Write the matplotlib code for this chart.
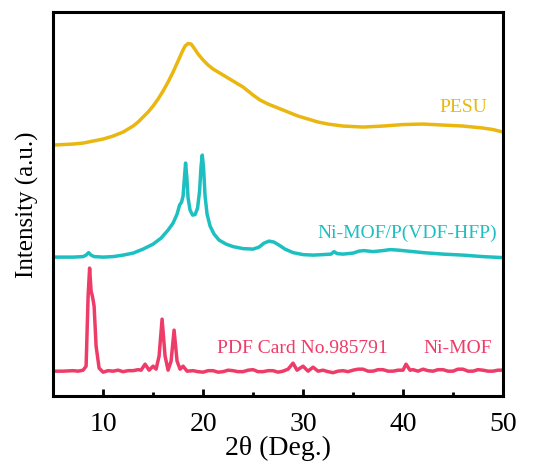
import matplotlib
matplotlib.use("Agg")
import matplotlib.pyplot as plt
from matplotlib.ticker import MultipleLocator

plt.rcParams['font.family'] = ['Liberation Serif', 'DejaVu Serif']

# PESU (2theta, intensity)
pesu_x = [5, 6, 7, 8, 9, 10, 11, 12, 13, 13.5, 14, 14.5, 15, 15.5, 16, 16.5, 17, 17.5,
          17.9, 18.2, 18.5, 18.8, 19.1, 19.5, 20, 20.5, 21, 22, 23, 24, 25, 25.7, 26.5,
          27.5, 28.5, 29.5, 30.5, 31.5, 32.5, 34, 36, 38, 40, 42, 44, 46, 48, 49, 50]
pesu_y = [251, 251.5, 252, 253, 255, 257, 260, 264, 270, 274, 279, 284, 290, 297, 305,
          314, 324, 335, 344, 350, 352.5, 352, 348, 342, 336, 331, 327, 321, 315, 309, 301,
          296, 292, 288, 284, 280, 277, 274, 272, 270, 269, 270, 271.5, 272, 271, 270, 268,
          266.5, 264]

# Ni-MOF/P(VDF-HFP)
comp_x = [5, 6, 7, 8, 8.3, 8.55, 8.8, 9.1, 10, 11, 12, 13, 14, 15, 15.8, 16.5, 17, 17.4,
          17.65, 17.85, 18.0, 18.15, 18.25, 18.38, 18.5, 18.7, 18.95, 19.2, 19.45, 19.65,
          19.8, 19.92, 20.05, 20.2, 20.4, 20.7, 21.1, 21.6, 22.3, 23, 24, 25, 25.6, 26.1,
          26.6, 27.1, 27.6, 28.2, 29, 30, 31, 32, 32.8, 33.1, 33.4, 34, 35, 35.6, 36.1, 37,
          38, 38.7, 39.5, 40.5, 42, 44, 46, 48, 50]
comp_y = [139, 139, 139, 139.5, 141, 143.5, 141, 139.5, 139, 139.5, 141, 143, 147, 152,
          158, 166, 173, 182, 191, 194, 200, 220, 233, 218, 198, 186, 181, 181.5, 188, 205,
          230, 241, 228, 200, 182, 170, 162, 156, 152, 149.5, 147.5, 147, 149, 153,
          155, 154, 151, 147, 143.5, 141.5, 141, 141.5, 142, 144.5, 142.5, 142, 143, 145,
          145.5, 144.5, 145.5, 146.5, 146, 145, 143.5, 142, 141, 139.5, 138.5]

# Ni-MOF
mof_x = [5, 6, 7, 7.5, 8.0, 8.3, 8.5, 8.65, 8.8, 8.95, 9.1, 9.3, 9.6, 10, 10.5, 11, 11.5,
         12, 12.5, 13, 13.5, 13.8, 14.2, 14.6, 15.0, 15.3, 15.6, 15.9, 16.2, 16.5, 16.8,
         17.1, 17.4, 17.7, 18.0, 18.4, 19, 19.5, 20, 20.5, 21, 21.5, 22, 22.5, 23, 23.5, 24,
         24.5, 25, 25.5, 26, 26.5, 27, 27.5, 28, 28.5, 29, 29.4, 30, 30.5, 31, 31.5, 32,
         32.5, 33, 33.5, 34, 34.5, 35, 35.5, 36, 36.5, 37, 37.5, 38, 38.5, 39, 39.5, 40,
         40.3, 40.7, 41, 41.5, 42, 42.5, 43, 43.5, 44, 44.5, 45, 45.5, 46, 46.5, 47, 47.5,
         48, 48.5, 49, 49.5, 50]
mof_y = [25, 25, 25.5, 25, 26, 30, 100, 128, 105, 99, 90, 50, 28, 24, 25.5, 25, 26,
         24.5, 25.5, 25.5, 26.5, 26, 32, 26, 30, 27, 40, 77, 40, 26, 35,
         66, 35, 27, 30, 25, 25.5, 24.5, 24, 25.5, 25.5, 24, 24.5, 26, 25.5, 24.5, 24.5,
         26, 26.5, 24.5, 24.5, 25.5, 25.5, 24, 25, 27, 33, 26, 30, 25, 29, 25, 26,
         24.5, 23.5, 25, 25.5, 24.5, 26, 27, 27, 25, 25, 26.5, 26.5, 25, 25, 26, 26,
         32, 26, 26.5, 25, 27, 25.5, 25, 26.5, 26.5, 25, 25, 27, 27, 25, 25, 26.5,
         26, 25, 25, 26, 26]

c_pesu = '#EAB710'
c_comp = '#1DBFC0'
c_mof = '#EE3B68'

fig = plt.figure(figsize=(5.42, 4.64), dpi=100)
ax = fig.add_axes([0.098, 0.144, 0.83, 0.828])

ax.plot(pesu_x, pesu_y, color=c_pesu, linewidth=2.5)
ax.plot(comp_x, comp_y, color=c_comp, linewidth=2.5)
ax.plot(mof_x, mof_y, color=c_mof, linewidth=2.5)

ax.text(48.4, 290, 'PESU', color=c_pesu, fontsize=14, ha='right', va='center')
ax.text(49.4, 164, 'Ni-MOF/P(VDF-HFP)', color=c_comp, fontsize=14, ha='right', va='center')
ax.text(38.5, 49, 'PDF Card No.985791', color=c_mof, fontsize=14, ha='right', va='center')
ax.text(48.9, 49, 'Ni-MOF', color=c_mof, fontsize=14, ha='right', va='center')

ax.set_xlim(5, 50)
ax.set_ylim(0, 384)
ax.xaxis.set_major_locator(MultipleLocator(10))
ax.xaxis.set_minor_locator(MultipleLocator(5))
ax.tick_params(axis='x', which='major', direction='in', length=5, width=2, labelsize=20, pad=11)
ax.tick_params(axis='x', which='minor', direction='in', length=3, width=2)
ax.set_yticks([])
for s in ax.spines.values():
    s.set_linewidth(2.2)

ax.set_xlabel('2θ (Deg.)', fontsize=20, labelpad=-1)
ax.set_ylabel('Intensity (a.u.)', fontsize=18, labelpad=10)

fig.savefig('out.png', dpi=100)
